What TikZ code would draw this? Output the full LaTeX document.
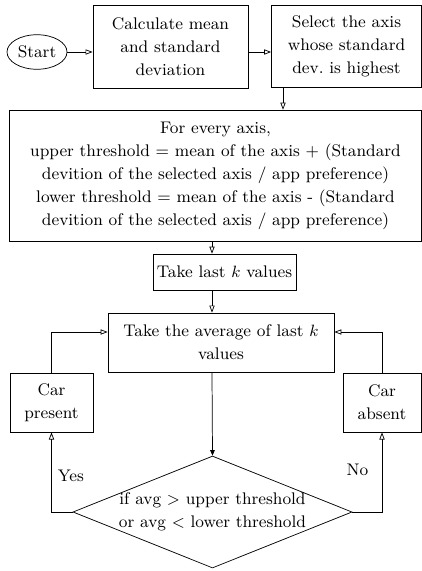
\documentclass[tikz,border=0pt]{standalone}
\usepackage{amsmath}
\usepackage{tikz}
\usetikzlibrary{shapes.geometric, arrows.meta}
\tikzstyle{startstop} = [ellipse, minimum width=33pt, minimum height=19pt, inner sep=1pt, draw=black]
\tikzstyle{process} = [rectangle, align=center, inner sep=2pt, draw=black, font=\fontsize{9.25}{12.65}\selectfont]
\tikzstyle{decision} = [diamond, aspect=2.5, minimum width=153.5pt, minimum height=61.6pt, inner sep=-4pt, align=center, draw=black, font=\fontsize{9.25}{12.65}\selectfont]
\tikzstyle{arrow} = [->,>={Triangle[open,length=3.9pt,width=2.9pt]}]

\begin{document}
\begin{tikzpicture}[x=0.55pt,y=-0.55pt]
		\useasboundingbox (0,0) rectangle (422,571);
		\node (start) [startstop, font=\fontsize{9.25}{12.65}\selectfont] at (37,52) {Start};
		\node (calc) [process, minimum width=85.3pt, minimum height=45.7pt] at (170.5,46.5) {Calculate mean\\and standard\\deviation};
		\node (select) [process, minimum width=82.5pt, minimum height=45pt] at (346.5,46) {Select the axis\\whose standard\\dev.\ is highest};
		\node (rules) [process, minimum width=226.6pt, minimum height=72pt] at (215.5,175.5) {For every axis,\\upper threshold = mean of the axis + (Standard\\devition of the selected axis / app preference)\\lower threshold = mean of the axis - (Standard\\devition of the selected axis / app preference)};
		\node (last) [process, minimum width=78.6pt, minimum height=19.8pt] at (224.5,272) {Take last $k$ values};
		\node (avg) [process, minimum width=124.3pt, minimum height=32.5pt] at (221,342.5) {Take the average of last $k$\\values};
		\node (present) [process, minimum width=45.6pt, minimum height=32.5pt] at (51.5,402.5) {Car\\present};
		\node (absent) [process, minimum width=42.9pt, minimum height=32.5pt] at (382,402.5) {Car\\absent};
		\node (dia) [decision] at (212.5,512) {if avg $>$ upper threshold\\or avg $<$ lower threshold};
		\coordinate (mid) at (212,0);
		\coordinate (down) at (283,0);
		\coordinate (back) at (0,332);

		\draw [arrow] (start) -- (calc.west |- start);
		\draw [arrow] (calc.east |- start) -- (select.west |- start);
		\draw [arrow] (select.south -| down) -- (rules.north -| down);
		\draw [arrow] (rules.south -| mid) -- (last.north -| mid);
		\draw [arrow] (last.south -| mid) -- (avg.north -| mid);
		\draw [->,>={Triangle[length=3pt,width=2.5pt]}] (avg.south -| mid) -- (dia.north);
		\draw [arrow] (dia.west) -| node[pos=0.73, right=0pt, font=\fontsize{9.25}{12.65}\selectfont] {Yes} (present.south);
		\draw [arrow] (dia.east) -| node[pos=0.765, left=4pt, font=\fontsize{9.25}{12.65}\selectfont] {No} (absent.south);
		\draw [arrow] (present.north) |- (avg.west |- back);
		\draw [arrow] (absent.north) |- (avg.east |- back);
	\end{tikzpicture}
\end{document}
